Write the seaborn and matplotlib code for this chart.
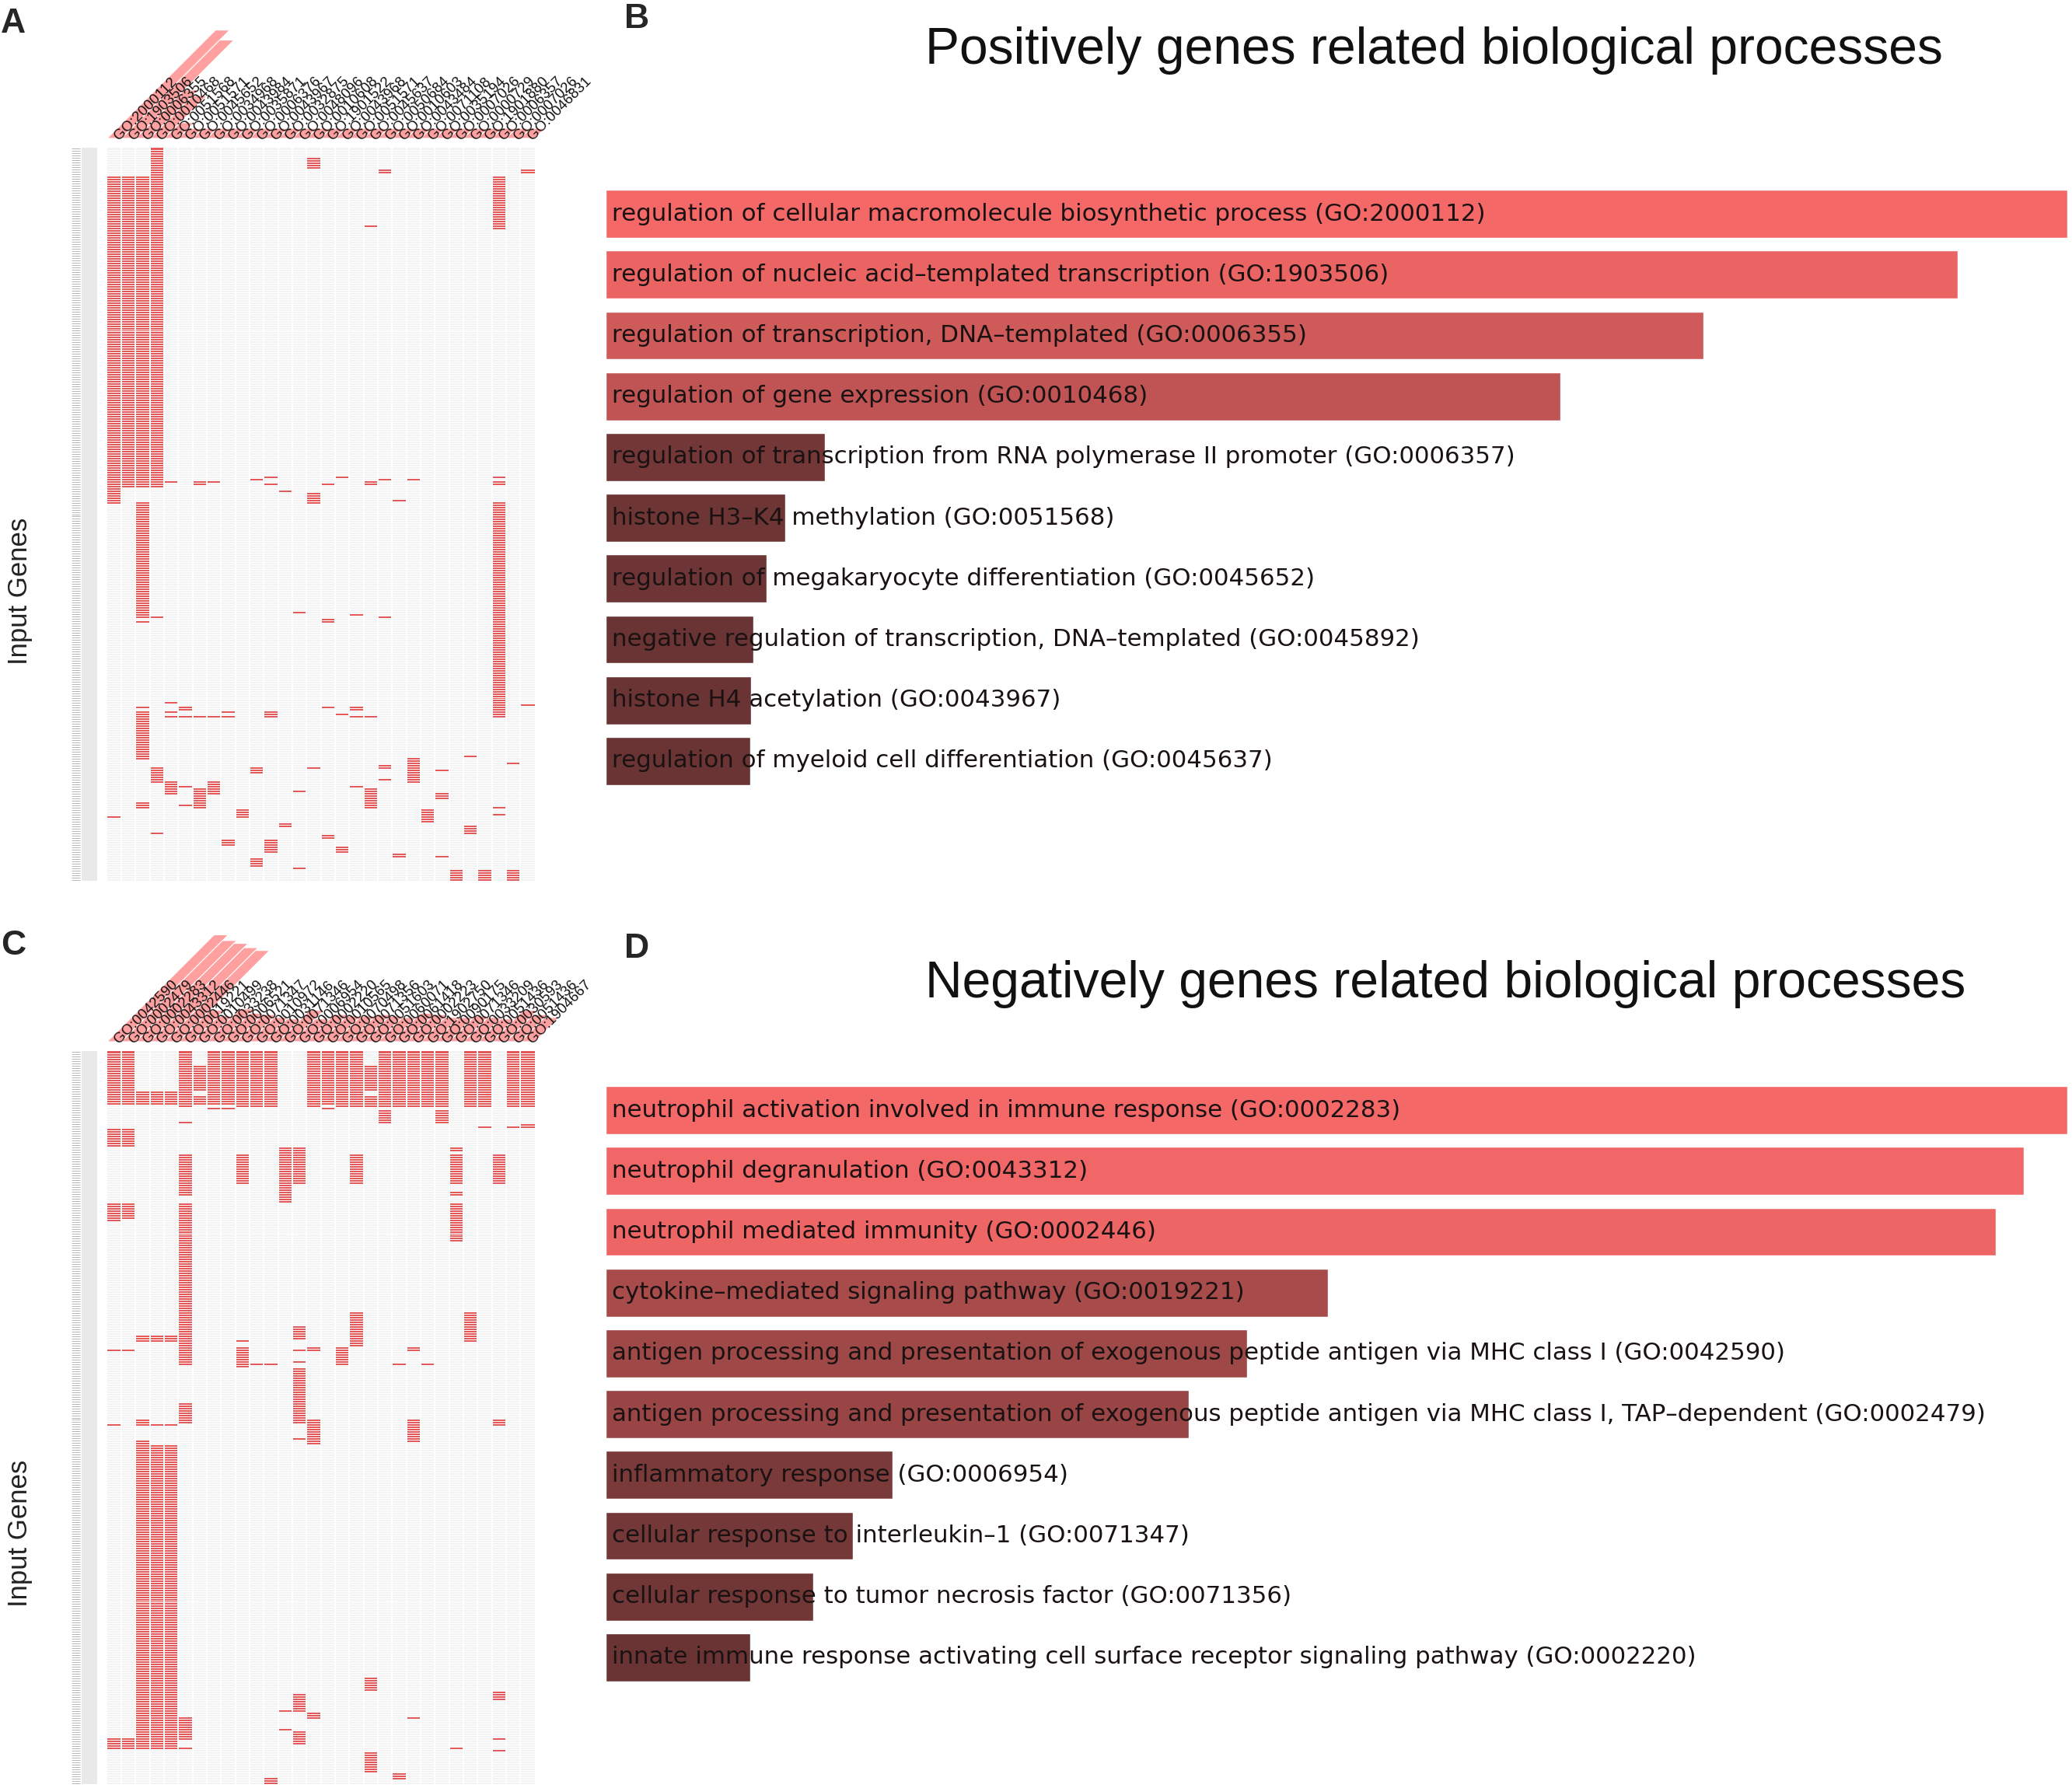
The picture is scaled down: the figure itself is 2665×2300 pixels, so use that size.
import numpy as np
import pandas as pd
import seaborn as sns
import matplotlib.pyplot as plt
from matplotlib.colors import ListedColormap, LinearSegmentedColormap, Normalize
from matplotlib.patches import Polygon

sns.set_style("white")
plt.rcParams['font.family'] = ['Liberation Sans', 'DejaVu Sans']

# ---------------- data ----------------
n_genes = 315   # input genes (rows) in each clustergram

# A: positively related genes, clustergram columns
pos_go_ids = ["GO:2000112", "GO:1903506", "GO:0006355", "GO:0010468", "GO:0051568",
              "GO:0051571", "GO:0045652", "GO:0034968", "GO:0043984", "GO:0035871",
              "GO:0006376", "GO:0043967", "GO:0032875", "GO:0048096", "GO:0010608",
              "GO:1901522", "GO:0043968", "GO:0051571", "GO:0045637", "GO:0050684",
              "GO:0010603", "GO:0043484", "GO:0071108", "GO:0035194", "GO:0007026",
              "GO:0000729", "GO:1901880", "GO:0006357", "GO:0007026", "GO:0046831"]
# enrichment bar drawn behind each column label (in cell units)
pos_label_bar = [7.6, 6.9, 3.4, 3.0, 1.1, 0.7, 0.7, 0.7, 0.7, 0.7,
                 0.7, 0.7, 0.7, 0.7, 0.7, 0.7, 0.7, 0.7, 0.7, 0.7,
                 0.7, 0.7, 0.7, 0.7, 0.7, 0.7, 0.7, 0.7, 0.7, 0.7]
# gene row spans (first, last) hit by each column
pos_cells = [
    [(12, 152), (287, 287)],
    [(12, 145)],
    [(12, 145), (152, 201), (203, 203), (240, 240), (242, 262), (281, 283)],
    [(0, 145), (201, 201), (266, 272), (294, 294)],
    [(143, 143), (238, 238), (242, 242), (244, 244), (272, 277)],
    [(240, 241), (244, 244), (274, 274), (282, 282)],
    [(143, 144), (244, 244), (275, 283)],
    [(143, 143), (244, 244), (272, 277)],
    [(242, 242), (244, 244), (297, 299)],
    [(284, 287)],
    [(142, 142), (266, 268), (305, 308)],
    [(141, 141), (144, 144), (242, 244), (297, 302)],
    [(147, 147), (290, 291)],
    [(199, 199), (276, 276), (309, 309)],
    [(4, 8), (148, 152), (266, 266)],
    [(144, 144), (202, 203), (240, 240), (295, 296)],
    [(141, 141), (243, 243), (300, 302)],
    [(200, 200), (240, 241), (244, 244), (274, 274)],
    [(33, 33), (143, 144), (244, 244), (275, 283)],
    [(9, 10), (142, 142), (201, 201), (265, 266), (271, 271)],
    [(151, 151), (303, 304)],
    [(142, 142), (262, 272)],
    [(284, 289)],
    [(267, 267), (277, 279), (304, 304)],
    [(310, 314)],
    [(261, 261), (291, 294)],
    [(310, 314)],
    [(12, 34), (141, 141), (143, 144), (152, 244), (283, 283), (286, 286)],
    [(264, 264), (310, 314)],
    [(9, 10), (239, 239)],
]

# C: negatively related genes, clustergram columns
neg_go_ids = ["GO:0042590", "GO:0002479", "GO:0002283", "GO:0043312", "GO:0002446",
              "GO:0019221", "GO:0010499", "GO:0033238", "GO:0006521", "GO:0071347",
              "GO:0010972", "GO:0031146", "GO:0071346", "GO:0006954", "GO:0002220",
              "GO:0010565", "GO:0070498", "GO:0071356", "GO:0051603", "GO:0060071",
              "GO:0061418", "GO:0002223", "GO:1902750", "GO:0090175", "GO:0071346",
              "GO:0033209", "GO:0051436", "GO:0030593", "GO:0051436", "GO:1904667"]
neg_label_bar = [7.5, 7.1, 6.9, 6.6, 6.4, 2.2, 1.8, 2.3, 2.0, 1.9,
                 1.7, 1.6, 2.2, 1.6, 1.9, 1.8, 1.8, 1.9, 1.8, 1.7,
                 2.0, 1.9, 1.7, 1.7, 1.8, 1.7, 1.6, 2.2, 1.9, 1.7]
neg_cells = [
    [(0, 22), (33, 40), (65, 72), (128, 128), (160, 160), (295, 299)],
    [(0, 22), (33, 40), (65, 71), (128, 128), (295, 299)],
    [(17, 22), (122, 124), (158, 160), (167, 299)],
    [(17, 22), (122, 124), (160, 160), (169, 299)],
    [(17, 22), (122, 124), (160, 160), (169, 299)],
    [(0, 23), (30, 30), (44, 61), (65, 134), (151, 159), (286, 295), (299, 299)],
    [(6, 16), (19, 22)],
    [(0, 22), (24, 24)],
    [(0, 22), (24, 24)],
    [(0, 23), (44, 56), (124, 124), (127, 135)],
    [(0, 23), (134, 134)],
    [(0, 23), (134, 134), (312, 314)],
    [(41, 64), (283, 283), (291, 291)],
    [(41, 56), (118, 123), (128, 128), (133, 133), (136, 159), (166, 166), (276, 283), (292, 297)],
    [(0, 23), (127, 128), (158, 168), (284, 286)],
    [(0, 22), (24, 24)],
    [(0, 23), (127, 134)],
    [(0, 23), (44, 56), (112, 126)],
    [(6, 16), (19, 23), (269, 274), (301, 309)],
    [(0, 23), (25, 30)],
    [(0, 23), (134, 134), (310, 312)],
    [(0, 23), (127, 128), (158, 167), (286, 286)],
    [(0, 23), (134, 134)],
    [(0, 23), (25, 30)],
    [(41, 42), (44, 56), (60, 61), (65, 81), (299, 299)],
    [(0, 23), (112, 124)],
    [(0, 23), (32, 32)],
    [(44, 56), (158, 160), (275, 278), (295, 295), (300, 300)],
    [(0, 23), (32, 32)],
    [(0, 23), (31, 32)],
]

# B: enriched processes for positively related genes
pos_terms = ["regulation of cellular macromolecule biosynthetic process (GO:2000112)",
             "regulation of nucleic acid\u2013templated transcription (GO:1903506)",
             "regulation of transcription, DNA\u2013templated (GO:0006355)",
             "regulation of gene expression (GO:0010468)",
             "regulation of transcription from RNA polymerase II promoter (GO:0006357)",
             "histone H3\u2013K4 methylation (GO:0051568)",
             "regulation of megakaryocyte differentiation (GO:0045652)",
             "negative regulation of transcription, DNA\u2013templated (GO:0045892)",
             "histone H4 acetylation (GO:0043967)",
             "regulation of myeloid cell differentiation (GO:0045637)"]
pos_scores = [100, 92.5, 75.1, 65.3, 15.0, 12.3, 11.0, 10.1, 9.96, 9.87]

# D: enriched processes for negatively related genes
neg_terms = ["neutrophil activation involved in immune response (GO:0002283)",
             "neutrophil degranulation (GO:0043312)",
             "neutrophil mediated immunity (GO:0002446)",
             "cytokine\u2013mediated signaling pathway (GO:0019221)",
             "antigen processing and presentation of exogenous peptide antigen via MHC class I (GO:0042590)",
             "antigen processing and presentation of exogenous peptide antigen via MHC class I, TAP\u2013dependent (GO:0002479)",
             "inflammatory response (GO:0006954)",
             "cellular response to interleukin\u20131 (GO:0071347)",
             "cellular response to tumor necrosis factor (GO:0071356)",
             "innate immune response activating cell surface receptor signaling pathway (GO:0002220)"]
neg_scores = [100, 97.0, 95.1, 49.4, 43.9, 39.9, 19.6, 16.9, 14.2, 9.9]

# ---------------- styling ----------------
W, H = 2665, 2300
cell_px = 18.33
hit_color = "#e35858"
empty_color = "#f3f3f3"
label_bar_color = "#ffa0a0"
bar_cmap = LinearSegmentedColormap.from_list("enr", ["#6b3434", "#f56868"])


def frac_box(left, top, width, height):
    # pixel box -> figure fraction [l, b, w, h]
    return [left / W, 1 - (top + height) / H, width / W, height / H]


def to_matrix(cells, ids):
    m = np.zeros((n_genes, len(ids)))
    for j, spans in enumerate(cells):
        for a, b in spans:
            m[a:b + 1, j] = 1
    return pd.DataFrame(m, columns=range(len(ids)))


def clustergram(fig, top, ids, cells, bar_h):
    n_cols = len(ids)
    heat_h = 943
    ax = fig.add_axes(frac_box(92, top, 32.5 * cell_px, heat_h))
    sns.heatmap(to_matrix(cells, ids), ax=ax, cmap=ListedColormap([empty_color, hit_color]),
                vmin=0, vmax=1, cbar=False, linewidths=0,
                xticklabels=False, yticklabels=False)
    # crisp white cell separators
    ax.hlines(np.arange(1, n_genes), 0, n_cols, colors="white", lw=0.6, antialiased=False)
    ax.vlines(np.arange(1, n_cols), 0, n_genes, colors="white", lw=1.4, antialiased=False)
    ax.set_xlim(-2.5, n_cols)
    ax.set_ylim(n_genes, 0)
    ax.axvspan(-1.8, -0.7, color="#e9e9e9", lw=0)
    # row labels are illegible in the source, shown as a grey tick texture
    ax.set_yticks(np.arange(n_genes) + 0.5)
    ax.set_yticklabels([])
    ax.tick_params(axis="y", direction="in", length=8, width=0.5, color="#999999", left=True)
    ax.set_ylabel("")

    # angled column labels with enrichment bars
    lab_h = 178
    lax = fig.add_axes(frac_box(92, top - 12 - lab_h, 37.5 * cell_px, lab_h))
    lax.set_xlim(-2.5, 35)
    lax.set_ylim(0, lab_h / cell_px)
    lax.axis("off")
    lax.add_patch(Polygon([(0, 0), (n_cols, 0), (n_cols + 0.35, 0.35), (0.35, 0.35)],
                          closed=True, fc="#ebebeb", ec="none"))
    for i, (gid, h) in enumerate(zip(ids, bar_h)):
        lax.add_patch(Polygon([(i, 0), (i + 1, 0), (i + 1 + h, h), (i + h, h)],
                              closed=True, fc=label_bar_color, ec="white", lw=0.8))
        lax.text(i + 0.6, 0.1, gid, rotation=45, rotation_mode="anchor",
                 ha="left", va="center_baseline", fontsize=13.5, color="#111111")


def enrich_bars(fig, top, terms, scores):
    ax = fig.add_axes(frac_box(779, top, 2662 - 779, 782))
    norm = Normalize(vmin=min(min(pos_scores), min(neg_scores)), vmax=100)
    colors = [bar_cmap(norm(s)) for s in scores]
    df = pd.DataFrame({"term": terms, "score": scores})
    sns.barplot(data=df, x="score", y="term", hue="term", palette=colors, legend=False,
                orient="h", width=0.79, saturation=1, ax=ax)
    ax.set_xlim(0, 100.15)
    for i, t in enumerate(terms):
        ax.annotate(t, xy=(0, i), xytext=(6, 0), textcoords="offset points",
                    va="center", ha="left", fontsize=22.2, color="#1a1212",
                    family="DejaVu Sans")
    ax.axis("off")


fig = plt.figure(figsize=(W / 100, H / 100), dpi=100)

clustergram(fig, 190, pos_go_ids, pos_cells, pos_label_bar)
clustergram(fig, 1352, neg_go_ids, neg_cells, neg_label_bar)
enrich_bars(fig, 236, pos_terms, pos_scores)
enrich_bars(fig, 1389, neg_terms, neg_scores)

fig.text(1190 / W, 1 - 65 / H, "Positively genes related biological processes",
         fontsize=47.5, ha="left", va="center", color="#111111")
fig.text(1190 / W, 1 - 1266 / H, "Negatively genes related biological processes",
         fontsize=47.5, ha="left", va="center", color="#111111")

for letter, (x, y) in {"A": (17, 31), "B": (819, 24), "C": (17, 1217), "D": (819, 1221)}.items():
    fig.text(x / W, 1 - y / H, letter, fontsize=32, fontweight="bold", ha="center", va="center")

for y in (760, 1972):
    fig.text(26 / W, 1 - y / H, "Input Genes", rotation=90, fontsize=25,
             ha="center", va="center", color="#222222")

fig.savefig("out.png", dpi=100)
